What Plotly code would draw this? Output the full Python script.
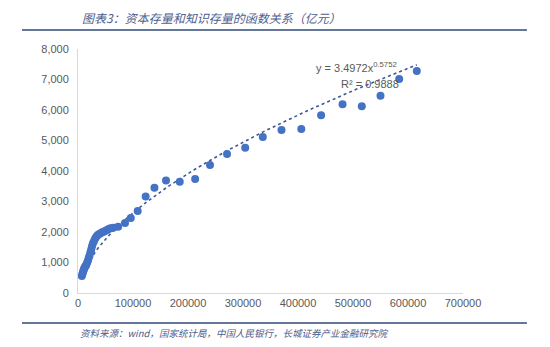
import numpy as np
import plotly.graph_objects as go

# 资本存量 (x) 与 知识存量 (y)，单位：亿元
capital_stock = [
    7000, 8000, 9000, 10000, 11000, 12000, 13500, 15000, 16500, 18000,
    19500, 21000, 22500, 24000, 25500, 27000, 29000, 31000, 33000, 35500,
    38000, 41000, 44000, 47500, 51000, 55000, 59000, 64000, 73000, 85500,
    96000, 108500, 123000, 139000, 160000, 185000, 213000, 240000, 271000,
    304000, 336000, 370000, 406000, 442000, 481000, 516000, 550000, 584000,
    616000,
]
knowledge_stock = [
    560, 620, 680, 740, 790, 840, 880, 920, 990, 1060,
    1150, 1230, 1330, 1430, 1530, 1620, 1700, 1780, 1840, 1890,
    1930, 1960, 1990, 2020, 2050, 2090, 2120, 2140, 2175, 2295,
    2460, 2690, 3160, 3450, 3690, 3650, 3740, 4200, 4560,
    4760, 5115, 5345, 5380, 5825, 6185, 6120, 6470, 7015,
    7280,
]

# 幂函数趋势线参数
trend_coef = 3.4972
trend_exp = 0.5752
trend_r2 = "0.9888"

x_ticks = [0, 100000, 200000, 300000, 400000, 500000, 600000, 700000]
y_ticks = [0, 1000, 2000, 3000, 4000, 5000, 6000, 7000, 8000]

title_text = "图表3：资本存量和知识存量的函数关系（亿元）"
source_text = "资料来源：wind，国家统计局，中国人民银行，长城证券产业金融研究院"

trend_x = np.linspace(min(capital_stock), max(capital_stock), 200)
trend_y = trend_coef * trend_x ** trend_exp

fig = go.Figure()
fig.add_trace(go.Scatter(
    x=trend_x, y=trend_y, mode="lines",
    line=dict(color="#3A5A9C", width=1.6, dash="dot"),
    hoverinfo="skip", showlegend=False,
))
fig.add_trace(go.Scatter(
    x=capital_stock, y=knowledge_stock, mode="markers",
    marker=dict(color="#4472C4", size=8),
    showlegend=False,
))

axis_font = dict(family="Liberation Sans, Arial, sans-serif", size=11, color="#595959")

fig.update_xaxes(
    range=[0, 700000], tickvals=x_ticks, tickformat="d",
    showgrid=False, zeroline=False, showline=True, linecolor="#D9D9D9",
    linewidth=1, ticks="", tickfont=axis_font,
)
fig.update_yaxes(
    range=[0, 8000], tickvals=y_ticks, tickformat=",d",
    showgrid=False, zeroline=False, showline=True, linecolor="#D9D9D9",
    linewidth=1, ticks="", tickfont=axis_font, ticklabelstandoff=6,
)

header_color = "#4E5D8C"
rule_color = "#2F4A7A"
cjk = "Noto Sans CJK SC"

fig.update_layout(
    width=550, height=347,
    margin=dict(l=78, r=87, t=49, b=54),
    paper_bgcolor="white", plot_bgcolor="white",
    shapes=[
        dict(type="line", xref="paper", yref="paper",
             x0=-0.1455, x1=1.166, y0=1.078, y1=1.078,
             line=dict(color=rule_color, width=1.5)),
        dict(type="line", xref="paper", yref="paper",
             x0=-0.1455, x1=1.166, y0=-0.123, y1=-0.123,
             line=dict(color=rule_color, width=1.5)),
    ],
    annotations=[
        dict(text=title_text, xref="paper", yref="paper", x=0.005, y=1.131,
             xanchor="left", yanchor="middle", showarrow=False,
             font=dict(family=cjk, size=12, color=header_color, style="italic")),
        dict(text=source_text, xref="paper", yref="paper", x=0.0, y=-0.164,
             xanchor="left", yanchor="middle", showarrow=False,
             font=dict(family=cjk, size=9.5, color=header_color, style="italic")),
        dict(text=f"y = {trend_coef}x<sup>{trend_exp}</sup>", x=507000, y=7410,
             xref="x", yref="y", showarrow=False,
             font=dict(family="Liberation Sans, Arial, sans-serif", size=11, color="#595959")),
        dict(text=f"R² = {trend_r2}", x=530000, y=6850,
             xref="x", yref="y", showarrow=False,
             font=dict(family="Liberation Sans, Arial, sans-serif", size=11, color="#595959")),
    ],
)

fig.write_html("out.html")
